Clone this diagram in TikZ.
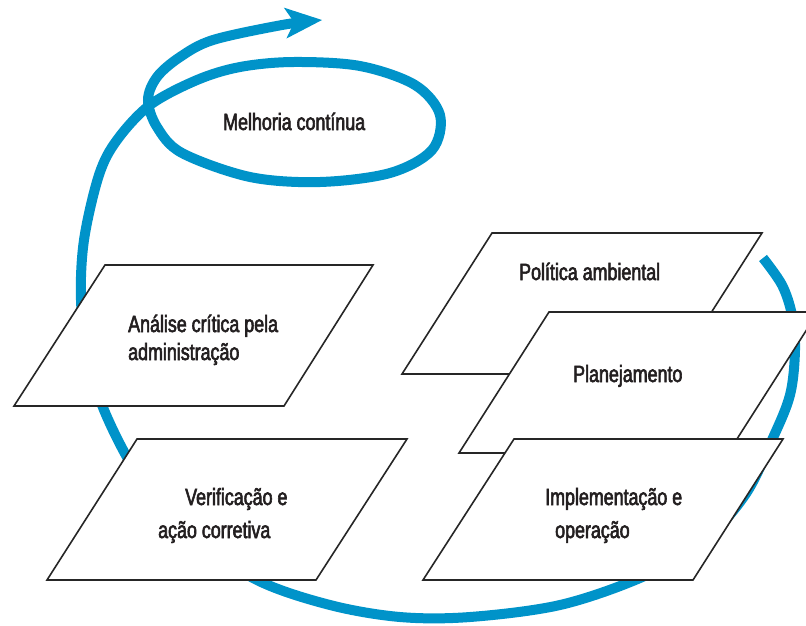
\documentclass[tikz,border=0pt]{standalone}
\usepackage{fontspec}
\setmainfont{Liberation Sans}[FakeStretch=0.76,FakeBold=2.5]
\usepackage{tikz}
\usetikzlibrary{arrows.meta}
\definecolor{azulciclo}{RGB}{0,147,201}
\definecolor{texto}{RGB}{35,31,32}
\tikzstyle{ciclo} = [draw=azulciclo, line width=10pt, -{Stealth[length=37pt,width=31pt,inset=9pt,line width=0pt]}]
\tikzstyle{bloco} = [draw=black!85, fill=white, line width=1.6pt]
\tikzstyle{rotulo} = [inner sep=0pt, anchor=base west, align=left, text=texto, font=\fontsize{23.5}{33}\selectfont]

\begin{document}
\begin{tikzpicture}[x=1pt, y=-1pt]
		\useasboundingbox (0,0) rectangle (806,625);
		\clip (0,0) rectangle (806,625);

		% ciclo de melhoria continua
		\draw [ciclo] plot [smooth, tension=0.55] coordinates {
			(763,258) (782,285) (792,315) (795,350) (790,395) (772,440) (745,495)
			(700,545) (640,578) (560,605) (470,617) (400,617) (330,605) (257,580)
			(190,535) (140,478) (107,417) (88,360) (81,300) (84,240) (99,175)
			(117,140) (150,105) (197,80) (240,67) (293,62) (360,66) (415,85)
			(440,115) (432,150) (390,173) (320,182) (250,177) (182,153) (157,127)
			(148,100) (157,77) (180,57) (213,40) (282,25) (322,20)};

		\draw [bloco] (105,265) -- (373,265) -- (284,406) -- (14,406) -- cycle;
		\draw [bloco] (137,439) -- (407,439) -- (316,580) -- (47,580) -- cycle;
		\draw [bloco] (492,233) -- (762,233) -- (672,374) -- (402,374) -- cycle;
		\draw [bloco] (549,312) -- (818,312) -- (728,453) -- (459,453) -- cycle;
		\draw [bloco] (514,439) -- (783,439) -- (693,580) -- (423,580) -- cycle;

		\node [rotulo] (melhoria) at (223,130) {Melhoria contínua};
		\node [rotulo, font=\fontsize{23.5}{28}\selectfont] (analise) at (128,360) {Análise crítica pela\\administração};
		\node [rotulo] (verificacao) at (158,538) {\hspace*{27pt}Verificação e\\ação corretiva};
		\node [rotulo] (politica) at (519,280) {Política ambiental};
		\node [rotulo] (planejamento) at (573,382) {Planejamento};
		\node [rotulo] (implementacao) at (545,538) {Implementação e\\\hspace*{10pt}operação};
	\end{tikzpicture}
\end{document}
